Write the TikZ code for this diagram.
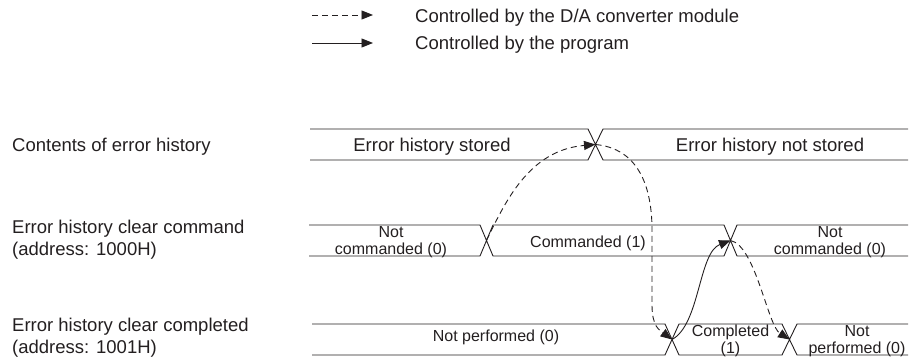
\documentclass[tikz,border=0pt]{standalone}
\usepackage{fontspec}
\setmainfont{Liberation Sans}
\usetikzlibrary{arrows.meta}
\definecolor{ink}{RGB}{35,31,32}

\begin{document}
\begin{tikzpicture}[x=1pt,y=-1pt,>={Triangle[length=11.5pt,width=9pt]},
  sig/.style={draw=ink,line width=0.9pt},
  bigtxt/.style={inner sep=0pt,text=ink,font=\fontsize{18.5}{22}\selectfont},
  rowlbl/.style={bigtxt,anchor=west,align=left},
  celltxt/.style={inner sep=0pt,text=ink,align=center,font=\fontsize{16}{17}\selectfont},
  dflow/.style={->,draw=ink,line width=0.9pt,dash pattern=on 6pt off 4pt},
  pflow/.style={->,draw=ink,line width=0.9pt}]
\useasboundingbox (0,0) rectangle (910,363);

% legend
\coordinate (d0) at (312,15); \coordinate (d1) at (373,15);
\coordinate (p0) at (312,43); \coordinate (p1) at (373,43);
\node[bigtxt,anchor=west] (dlgd) at (415,17.4) {Controlled by the D/A converter module};
\node[bigtxt,anchor=west] (plgd) at (415,45.2) {Controlled by the program};
\draw[dflow] (d0)--(d1);
\draw[pflow] (p0)--(p1);

% signal names
\node[rowlbl] (r1) at (12,146.5) {Contents of error history};
\node[rowlbl] (r2) at (12,239.3) {Error history clear command\\(address: 1000H)};
\node[rowlbl] (r3) at (12,337.7) {Error history clear completed\\(address: 1001H)};

% buses
\draw[sig] (310,129)--(588,129)--(603,160)--(908,160) (310,160)--(588,160)--(603,129)--(908,129);
\draw[sig] (309,225)--(480,225)--(493,256)--(724,256)--(737,225)--(908,225) (309,256)--(480,256)--(493,225)--(724,225)--(737,256)--(908,256);
\draw[sig] (312,324)--(665,324)--(679,355)--(782,355)--(797,324)--(908,324) (312,355)--(665,355)--(679,324)--(782,324)--(797,355)--(908,355);

% crossings
\coordinate (x1) at (595.5,144.5);
\coordinate (x2a) at (486.5,240.5);
\coordinate (x2b) at (730.5,240.5);
\coordinate (x3a) at (672,339.5);
\coordinate (x3b) at (789.5,339.5);
\coordinate (v0) at (652,230);
\coordinate (v1) at (652,305);

% states
\node[bigtxt] (s1) at (432,146.8) {Error history stored};
\node[bigtxt] (s2) at (770,146.8) {Error history not stored};
\node[celltxt] (c1) at (391,242.2) {Not\\commanded (0)};
\node[celltxt] (c2) at (588,243) {Commanded (1)};
\node[celltxt] (c3) at (830,242.4) {Not\\commanded (0)};
\node[celltxt] (f1) at (496,337) {Not performed (0)};
\node[celltxt] (f2) at (730.5,341.3) {Completed\\(1)};
\node[celltxt] (f3) at (857,341.3) {Not\\performed (0)};

% flows
\draw[dflow] (x2a) .. controls +(19.5,-40.5) and +(-65.5,5.5) .. (x1);
\draw[dflow] (x1) .. controls +(42,4) and +(0,-45) .. (v0) -- (v1) .. controls +(0,22) and +(-12,-9) .. (x3a);
\draw[pflow] (x3a) .. controls +(28,-15) and +(-32,12) .. (x2b);
\draw[dflow] (x2b) .. controls +(25,5) and +(-22,-14) .. (x3b);
\end{tikzpicture}
\end{document}
